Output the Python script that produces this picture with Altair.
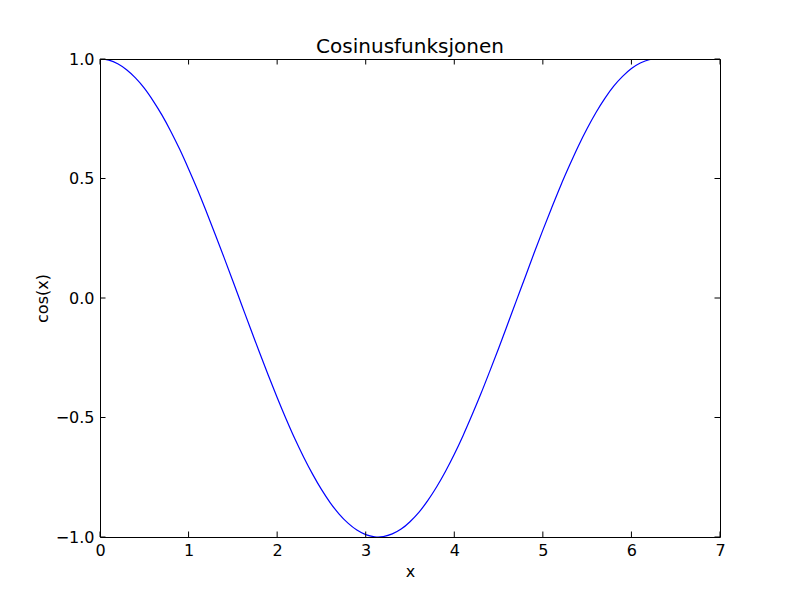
import altair as alt
import pandas as pd

# Curve values
xs = [0.0, 0.1, 0.2, 0.3, 0.4, 0.5, 0.6, 0.7, 0.8, 0.9,
      1.0, 1.1, 1.2, 1.3, 1.4, 1.5, 1.6, 1.7, 1.8, 1.9,
      2.0, 2.1, 2.2, 2.3, 2.4, 2.5, 2.6, 2.7, 2.8, 2.9,
      3.0, 3.1, 3.14, 3.2, 3.3, 3.4, 3.5, 3.6, 3.7, 3.8, 3.9,
      4.0, 4.1, 4.2, 4.3, 4.4, 4.5, 4.6, 4.7, 4.8, 4.9,
      5.0, 5.1, 5.2, 5.3, 5.4, 5.5, 5.6, 5.7, 5.8, 5.9,
      6.0, 6.1, 6.2, 6.28]
ys = [1.000, 0.995, 0.980, 0.955, 0.921, 0.878, 0.825, 0.765, 0.697, 0.622,
      0.540, 0.454, 0.362, 0.267, 0.170, 0.071, -0.029, -0.129, -0.227, -0.323,
      -0.416, -0.505, -0.589, -0.666, -0.737, -0.801, -0.857, -0.904, -0.942, -0.971,
      -0.990, -0.999, -1.000, -0.998, -0.987, -0.967, -0.936, -0.897, -0.848, -0.791, -0.726,
      -0.654, -0.575, -0.490, -0.401, -0.307, -0.211, -0.112, -0.012, 0.087, 0.187,
      0.284, 0.378, 0.469, 0.554, 0.635, 0.709, 0.776, 0.835, 0.886, 0.927,
      0.960, 0.983, 0.997, 1.000]

x_ticks = [0, 1, 2, 3, 4, 5, 6, 7]
y_ticks = [-1.0, -0.5, 0.0, 0.5, 1.0]
title_text = ["Cosinusfunksjonen"]

W, H = 620, 478
TL = 5.5
FONT = "DejaVu Sans"

df = pd.DataFrame({"x": xs, "y": ys})
dfx = pd.DataFrame({"x": x_ticks})
dfy = pd.DataFrame({"y": y_ticks})
dframe = pd.DataFrame({"a": [0]})
dtitle = pd.DataFrame({"t": title_text})

xscale = alt.Scale(domain=[0, 7], nice=False, zero=False)
yscale = alt.Scale(domain=[-1, 1], nice=False, zero=False)

line = alt.Chart(df).mark_line(color="#0000ff", strokeWidth=1.2, interpolate="monotone", clip=True).encode(
    x=alt.X("x:Q", scale=xscale, title="x",
            axis=alt.Axis(values=x_ticks, format="d", ticks=False, domain=False, grid=False,
                          labelPadding=5, labelFlush=False, labelOverlap=False,
                          titleY=39, titleBaseline="alphabetic")),
    y=alt.Y("y:Q", scale=yscale, title="cos(x)",
            axis=alt.Axis(values=y_ticks, format=".1f", ticks=False, domain=False, grid=False,
                          labelPadding=6, labelFlush=False, labelOverlap=False,
                          titleX=-58, titleY=H / 2, titleAngle=-90,
                          titleBaseline="middle", titleAlign="center")),
)

frame = alt.Chart(dframe).mark_rect(fill=None, stroke="black", strokeWidth=1).encode(
    x=alt.value(0.5), x2=alt.value(W + 0.5), y=alt.value(0.5), y2=alt.value(H + 0.5))

xt_bottom = alt.Chart(dfx).mark_rule(color="black", strokeWidth=1).encode(
    x=alt.X("x:Q", scale=xscale), y=alt.value(H), y2=alt.value(H - TL))
xt_top = alt.Chart(dfx).mark_rule(color="black", strokeWidth=1).encode(
    x=alt.X("x:Q", scale=xscale), y=alt.value(0), y2=alt.value(TL))
yt_left = alt.Chart(dfy).mark_rule(color="black", strokeWidth=1).encode(
    y=alt.Y("y:Q", scale=yscale), x=alt.value(0), x2=alt.value(TL))
yt_right = alt.Chart(dfy).mark_rule(color="black", strokeWidth=1).encode(
    y=alt.Y("y:Q", scale=yscale), x=alt.value(W), x2=alt.value(W - TL))

title = alt.Chart(dtitle).mark_text(font=FONT, fontSize=20, color="black", align="center",
                                    baseline="alphabetic").encode(
    text="t:N", x=alt.value(W / 2), y=alt.value(-6.5))

chart = alt.layer(line, xt_bottom, xt_top, yt_left, yt_right, frame, title).properties(
    width=W, height=H,
    background="white",
    autosize=alt.AutoSizeParams(type="none"),
    padding={"left": 92, "top": 51, "right": 70, "bottom": 50},
).configure_view(stroke=None).configure_axis(
    labelFont=FONT, labelFontSize=16, labelColor="black",
    titleFont=FONT, titleFontSize=16, titleColor="black", titleFontWeight="normal",
)

chart.save("out.html", embed_options={"renderer": "svg", "actions": False})
